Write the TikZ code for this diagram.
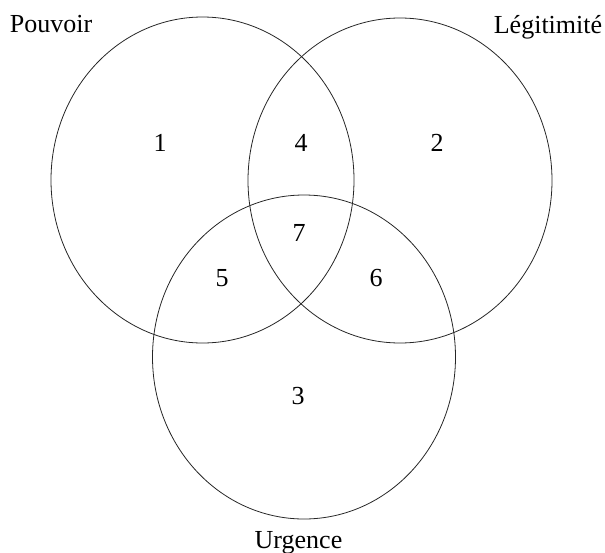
\documentclass[tikz,border=0pt]{standalone}
\usepackage{fontspec}
\setmainfont{Liberation Serif}
\begin{document}
\begin{tikzpicture}[x=1pt,y=-1pt,
  setline/.style={line width=0.8pt,draw=black!85},
  lbl/.style={font=\fontsize{26}{30}\selectfont,inner sep=0pt},
  title/.style={lbl,anchor=base}]
\useasboundingbox (0,0) rectangle (605,552);
% the three sets
\draw[setline] (202.5,180) ellipse [x radius=151.5,y radius=163];
\draw[setline] (400,180.5) ellipse [x radius=152,y radius=162.5];
\draw[setline] (304,357) ellipse [x radius=151.5,y radius=162];
% set names
\node[title] (pouvoir) at (51,32) {Pouvoir};
\node[title] (legit) at (548,33) {Légitimité};
\node[title] (urgence) at (298.5,548) {Urgence};
% region numbers
\node[lbl] (r1) at (160,143) {1};
\node[lbl] (r2) at (437,143) {2};
\node[lbl] (r3) at (298,396) {3};
\node[lbl] (r4) at (301,143) {4};
\node[lbl] (r5) at (222,278) {5};
\node[lbl] (r6) at (376,278) {6};
\node[lbl] (r7) at (299,233) {7};
\end{tikzpicture}
\end{document}
